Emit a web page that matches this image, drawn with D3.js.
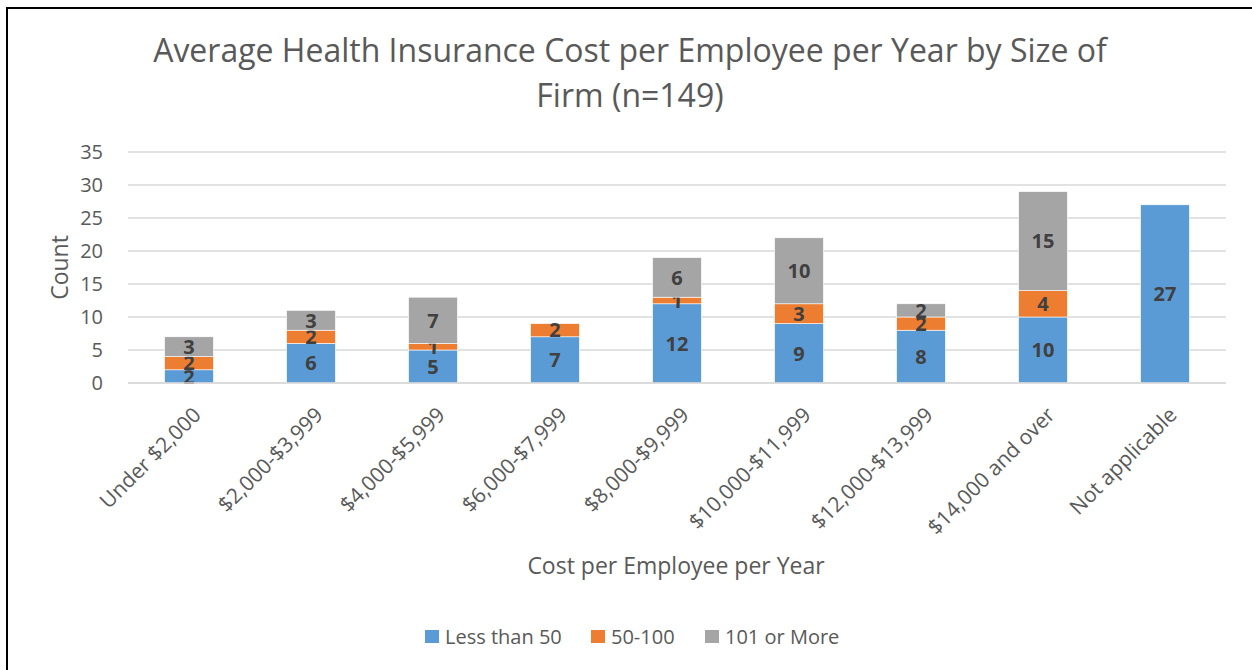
<!DOCTYPE html>
<html>
<head>
<meta charset="utf-8">
<script src="https://cdn.jsdelivr.net/npm/d3@7"></script>
<style>
  html, body { margin: 0; padding: 0; background: #fff; }
  svg { display: block; font-family: "Open Sans", "Noto Sans", sans-serif; }
</style>
</head>
<body>
<svg id="chart" width="1252" height="670"></svg>
<script>
// Cost bands on the x axis
const categories = ["Under $2,000", "$2,000-$3,999", "$4,000-$5,999", "$6,000-$7,999",
  "$8,000-$9,999", "$10,000-$11,999", "$12,000-$13,999", "$14,000 and over", "Not applicable"];

// Firm-size series (counts of firms)
const seriesNames = ["Less than 50", "50-100", "101 or More"];
const lessThan50 = [2, 6, 5, 7, 12, 9, 8, 10, 27];
const from50to100 = [2, 2, 1, 2, 1, 3, 2, 4, 0];
const over100 = [3, 3, 7, 0, 6, 10, 2, 15, 0];

const yTicks = [0, 5, 10, 15, 20, 25, 30, 35];
const colors = ["#5B9BD5", "#ED7D31", "#A5A5A5"];

const rows = categories.map((c, i) => ({
  cat: c,
  "Less than 50": lessThan50[i],
  "50-100": from50to100[i],
  "101 or More": over100[i]
}));

const svg = d3.select("#chart");

// outer frame
svg.append("rect")
  .attr("x", 7).attr("y", 8).attr("width", 1300).attr("height", 700)
  .attr("fill", "none").attr("stroke", "#000").attr("stroke-width", 2);

const plot = { left: 128, right: 1226, top: 152, bottom: 383 };

const x = d3.scaleBand().domain(categories).range([plot.left, plot.right]).padding(0);
const y = d3.scaleLinear().domain([0, 35]).range([plot.bottom, plot.top]);
const barW = x.bandwidth() * 0.4;

// title
const title = svg.append("text")
  .attr("text-anchor", "middle")
  .attr("fill", "#595959")
  .style("font-size", "32px");
title.append("tspan").attr("x", 630).attr("y", 62)
  .text("Average Health Insurance Cost per Employee per Year by Size of");
title.append("tspan").attr("x", 630).attr("y", 107).text("Firm (n=149)");

// gridlines
svg.append("g")
  .selectAll("line")
  .data(yTicks)
  .join("line")
  .attr("x1", plot.left).attr("x2", plot.right)
  .attr("y1", d => y(d)).attr("y2", d => y(d))
  .attr("stroke", "#D9D9D9").attr("stroke-width", 1.5);

// y axis
const yAxis = svg.append("g")
  .attr("transform", `translate(${plot.left - 25},0)`)
  .call(d3.axisLeft(y).tickValues(yTicks).tickSize(0).tickPadding(0));
yAxis.select(".domain").remove();
yAxis.selectAll("text")
  .attr("fill", "#595959")
  .style("font-size", "20px")
  .style("font-family", "'Open Sans', sans-serif");

// stacked bars
const stack = d3.stack().keys(seriesNames)(rows);

const layers = svg.append("g")
  .selectAll("g")
  .data(stack)
  .join("g")
  .attr("fill", (d, i) => colors[i]);

layers.selectAll("rect")
  .data(d => d.filter(s => s[1] - s[0] > 0))
  .join("rect")
  .attr("x", d => x(d.data.cat) + (x.bandwidth() - barW) / 2)
  .attr("width", barW)
  .attr("y", d => y(d[1]))
  .attr("height", d => y(d[0]) - y(d[1]))
  .attr("stroke", "#fff").attr("stroke-width", 0.6);

// x axis baseline
svg.append("line")
  .attr("x1", plot.left).attr("x2", plot.right)
  .attr("y1", plot.bottom).attr("y2", plot.bottom)
  .attr("stroke", "#D9D9D9").attr("stroke-width", 1.5);

// value labels
layers.each(function(layer) {
  d3.select(this).selectAll("text")
    .data(layer.filter(s => s[1] - s[0] > 0))
    .join("text")
    .attr("x", d => x(d.data.cat) + x.bandwidth() / 2)
    .attr("y", d => (y(d[0]) + y(d[1])) / 2)
    .attr("dy", "0.36em")
    .attr("text-anchor", "middle")
    .attr("fill", "#404040")
    .style("font-size", "20px")
    .style("font-weight", "bold")
    .text(d => d[1] - d[0]);
});

// category labels
svg.append("g")
  .selectAll("text")
  .data(categories)
  .join("text")
  .attr("transform", d => `translate(${x(d) + x.bandwidth() / 2 + 8},${plot.bottom + 28}) rotate(-45)`)
  .attr("text-anchor", "end")
  .attr("dy", "0.35em")
  .attr("fill", "#595959")
  .style("font-size", "21px")
  .text(d => d);

// axis titles
svg.append("text")
  .attr("transform", `translate(68,${(plot.top + plot.bottom) / 2}) rotate(-90)`)
  .attr("text-anchor", "middle")
  .attr("fill", "#595959")
  .style("font-size", "23px")
  .text("Count");

svg.append("text")
  .attr("x", 676).attr("y", 574)
  .attr("text-anchor", "middle")
  .attr("fill", "#595959")
  .style("font-size", "23px")
  .text("Cost per Employee per Year");

// legend
const legendX = [425, 591, 705];
const legend = svg.append("g")
  .selectAll("g")
  .data(seriesNames)
  .join("g")
  .attr("transform", (d, i) => `translate(${legendX[i]},637)`);
legend.append("rect")
  .attr("x", 0).attr("y", -7).attr("width", 14).attr("height", 13)
  .attr("fill", (d, i) => colors[i]);
legend.append("text")
  .attr("x", 20).attr("dy", "0.35em")
  .attr("fill", "#595959")
  .style("font-size", "20px")
  .text(d => d);
</script>
</body>
</html>
